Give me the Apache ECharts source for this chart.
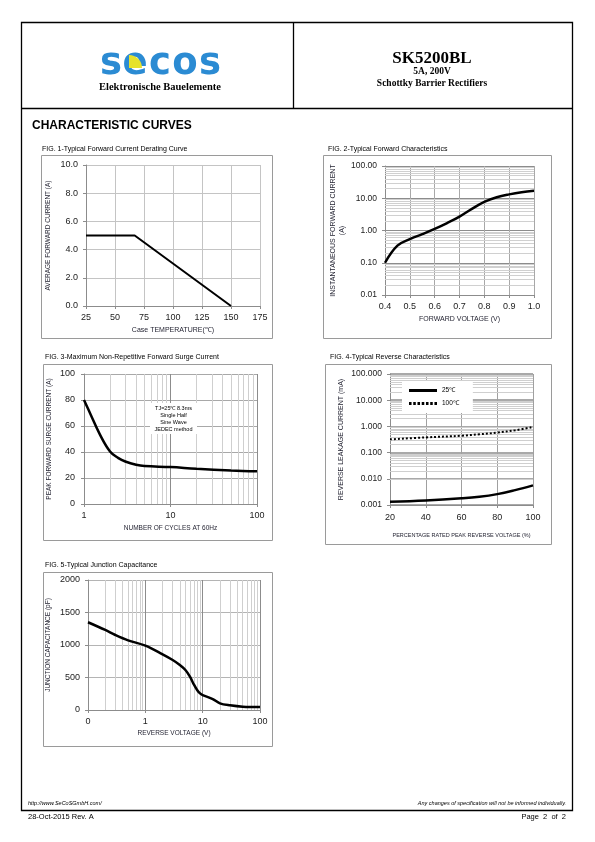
<!DOCTYPE html>
<html><head><meta charset="utf-8">
<script src="https://cdn.jsdelivr.net/npm/echarts@6/dist/echarts.min.js"></script>
<style>html,body{margin:0;padding:0;background:#fff}#c{width:595px;height:842px}</style>
</head><body><div id="c"></div>
<script>
// ---------------- DATA ----------------
// FIG.1 derating curve
const fig1Temp = [25, 67, 150];
const fig1Current = [5.0, 5.0, 0.0];
// FIG.2 forward characteristics
const fig2Voltage = [0.40, 0.45, 0.50, 0.55, 0.60, 0.65, 0.70, 0.75, 0.80, 0.85, 0.90, 0.95, 1.00];
const fig2Current = [0.10, 0.34, 0.54, 0.77, 1.12, 1.7, 2.7, 4.7, 7.7, 10.7, 13.2, 15.4, 17.0];
// FIG.3 surge current
const fig3Cycles = [1, 1.2, 1.5, 2, 2.5, 3, 4, 5, 10, 20, 50, 100];
const fig3Current = [80, 68.5, 54.5, 40.4, 35.3, 32.7, 30.2, 29.2, 28.4, 27.1, 25.8, 25.1];
// FIG.4 reverse characteristics
const fig4Percent = [20, 40, 60, 70, 80, 90, 100];
const fig4Leak25 = [0.00134, 0.0015, 0.0018, 0.00206, 0.0026, 0.0037, 0.0056];
const fig4Leak100 = [0.32, 0.38, 0.44, 0.50, 0.58, 0.71, 0.95];
const fig4Names = ['25℃', '100℃'];
// FIG.5 junction capacitance
const fig5Voltage = [0.1, 0.2, 0.3, 0.5, 1, 2, 3, 4, 5, 6, 7, 8, 9, 10, 15, 20, 30, 50, 100];
const fig5Cap = [1350, 1231, 1154, 1072, 990, 856, 769, 692, 615, 513, 395, 308, 256, 230, 169, 103, 72, 51, 46];
// minor log grid values
const minorDecadeSteps = [2, 3, 4, 5, 6, 7, 8, 9];
const fig2MinorY = [0.01, 0.1, 1, 10];
const fig4MinorY = [0.001, 0.01, 0.1, 1, 10];
const fig3MinorX = [1, 10];
const fig5MinorX = [0.1, 1, 10];
// texts
const titles = [
  'FIG. 1-Typical Forward Current Derating Curve',
  'FIG. 2-Typical Forward Characteristics',
  'FIG. 3-Maximum Non-Repetitive Forward Surge Current',
  'FIG. 4-Typical Reverse Characteristics',
  'FIG. 5-Typical Junction Capacitance'
];
const fig3Note = ['TJ=25℃ 8.3ms', 'Single Half', 'Sine Wave', 'JEDEC method'];

// ---------------- CHART ----------------
const F = 'Liberation Sans';
const chart = echarts.init(document.getElementById('c'), null, {renderer: 'canvas', width: 595, height: 842});
const zip = (a, b) => a.map((v, i) => [v, b[i]]);
const minorVals = (decades) => decades.flatMap(d => minorDecadeSteps.map(s => +(d * s).toPrecision(3)));

const gridRects = [
  {left: 86, top: 165, width: 174, height: 141},
  {left: 385, top: 166, width: 149, height: 129},
  {left: 84, top: 374, width: 173, height: 130},
  {left: 390, top: 374, width: 143, height: 131},
  {left: 88, top: 580, width: 172, height: 130}
];
const grid = gridRects.map(g => Object.assign({containLabel: false, outerBoundsMode: 'none', show: false}, g));

const axisLineS = {show: true, lineStyle: {color: '#8c8c8c', width: 1}};
const tickS = {show: true, length: 3, lineStyle: {color: '#8c8c8c'}};
const lab = (size, fmt, margin) => ({fontFamily: F, fontSize: size, color: '#222', formatter: fmt, margin: margin || 6});
const nameS = (size) => ({fontFamily: F, fontSize: size, color: '#1f1f2e'});
const split = (c, w) => ({show: true, lineStyle: {color: c, width: w || 1}});

const xAxis = [
  {gridIndex: 0, type: 'value', min: 25, max: 175, interval: 25, axisLine: axisLineS, axisTick: tickS,
   axisLabel: lab(9, v => String(v), 7), splitLine: split('#c4c4c4'),
   name: 'Case TEMPERATURE(℃)', nameLocation: 'middle', nameGap: 21, nameTextStyle: nameS(7)},
  {gridIndex: 1, type: 'value', min: 0.4, max: 1.0, interval: 0.1, axisLine: axisLineS, axisTick: tickS,
   axisLabel: lab(9, v => v.toFixed(1), 7), splitLine: split('#a8a8a8'),
   name: 'FORWARD VOLTAGE (V)', nameLocation: 'middle', nameGap: 21, nameTextStyle: nameS(7)},
  {gridIndex: 2, type: 'log', logBase: 10, min: 1, max: 100, axisLine: axisLineS, axisTick: tickS,
   axisLabel: lab(9, v => String(Math.round(v)), 7), splitLine: split('#8c8c8c'),
   name: 'NUMBER OF CYCLES AT 60Hz', nameLocation: 'middle', nameGap: 21, nameTextStyle: nameS(6.5)},
  {gridIndex: 3, type: 'value', min: 20, max: 100, interval: 20, axisLine: axisLineS, axisTick: tickS,
   axisLabel: lab(9, v => String(v), 8), splitLine: split('#a0a0a0'),
   name: 'PERCENTAGE RATED PEAK REVERSE VOLTAGE (%)', nameLocation: 'middle', nameGap: 27, nameTextStyle: nameS(5.5)},
  {gridIndex: 4, type: 'log', logBase: 10, min: 0.1, max: 100, axisLine: axisLineS, axisTick: tickS,
   axisLabel: lab(9, v => v < 0.5 ? '0' : String(Math.round(v)), 7), splitLine: split('#8c8c8c'),
   name: 'REVERSE VOLTAGE (V)', nameLocation: 'middle', nameGap: 20, nameTextStyle: nameS(6.5)}
];
const yAxis = [
  {gridIndex: 0, type: 'value', min: 0, max: 10, interval: 2, axisLine: axisLineS, axisTick: tickS,
   axisLabel: lab(9, v => v.toFixed(1), 8), splitLine: split('#c4c4c4'),
   name: 'AVERAGE FORWARD CURRENT (A)', nameLocation: 'middle', nameRotate: 90, nameGap: 34, nameTextStyle: nameS(6.5)},
  {gridIndex: 1, type: 'log', logBase: 10, min: 0.01, max: 100, axisLine: axisLineS, axisTick: tickS,
   axisLabel: lab(8.5, v => v.toFixed(2), 8), splitLine: split('#8c8c8c'),
   name: 'INSTANTANEOUS FORWARD CURRENT\n(A)', nameLocation: 'middle', nameRotate: 90, nameGap: 38, nameTextStyle: Object.assign(nameS(7), {lineHeight: 9})},
  {gridIndex: 2, type: 'value', min: 0, max: 100, interval: 20, axisLine: axisLineS, axisTick: tickS,
   axisLabel: lab(9, v => String(v), 9), splitLine: split('#a8a8a8'),
   name: 'PEAK FORWARD SURGE CURRENT (A)', nameLocation: 'middle', nameRotate: 90, nameGap: 31, nameTextStyle: nameS(6.5)},
  {gridIndex: 3, type: 'log', logBase: 10, min: 0.001, max: 100, axisLine: axisLineS, axisTick: tickS,
   axisLabel: lab(8.5, v => v.toFixed(3), 8), splitLine: split('#8c8c8c', 1.5),
   name: 'REVERSE LEAKAGE CURRENT (mA)', nameLocation: 'middle', nameRotate: 90, nameGap: 45, nameTextStyle: nameS(7)},
  {gridIndex: 4, type: 'value', min: 0, max: 2000, interval: 500, axisLine: axisLineS, axisTick: tickS,
   axisLabel: lab(9, v => String(v), 8), splitLine: split('#b4b4b4'),
   name: 'JUNCTION CAPACITANCE (pF)', nameLocation: 'middle', nameRotate: 90, nameGap: 36, nameTextStyle: nameS(6.5)}
];

function gridLines(idx, dir, vals, color, width) {
  return {
    type: 'line', xAxisIndex: idx, yAxisIndex: idx, data: [], silent: true, z: 1,
    markLine: {
      silent: true, symbol: ['none', 'none'], label: {show: false}, animation: false,
      lineStyle: {color: color, width: width || 1, type: 'solid'},
      emphasis: {disabled: true},
      data: vals.map(v => (dir === 'x' ? {xAxis: v} : {yAxis: v}))
    }
  };
}
const curve = (idx, data, smooth, extra) => Object.assign({
  type: 'line', xAxisIndex: idx, yAxisIndex: idx, data: data, smooth: smooth, symbol: 'none', z: 5,
  lineStyle: {color: '#000', width: 2.5}, itemStyle: {color: '#000'}, animation: false
}, extra || {});

const series = [
  gridLines(1, 'y', minorVals(fig2MinorY), '#d0d0d0', 1),
  gridLines(2, 'x', minorVals(fig3MinorX), '#cfcfcf', 1),
  gridLines(3, 'y', minorVals(fig4MinorY), '#cfcfcf', 1.2),
  gridLines(4, 'x', minorVals(fig5MinorX), '#cfcfcf', 1),
  curve(0, zip(fig1Temp, fig1Current), false, {lineStyle: {color: '#000', width: 2}}),
  curve(1, zip(fig2Voltage, fig2Current), 0.4),
  curve(2, zip(fig3Cycles, fig3Current), 0.4),
  curve(3, zip(fig4Percent, fig4Leak25), 0.4, {name: fig4Names[0]}),
  curve(3, zip(fig4Percent, fig4Leak100), 0.4, {name: fig4Names[1], lineStyle: {color: '#000', width: 2, type: [2, 2]}}),
  curve(4, zip(fig5Voltage, fig5Cap), 0.35)
];

// ----- page graphics -----
const G = [];
const txt = (x, y, t, font, align, fill) => G.push({type: 'text', x: x, y: y, silent: true,
  style: {text: t, font: font, fill: fill || '#000', align: align || 'left', verticalAlign: 'middle'}});
const box = (x, y, w, h, stroke, lw) => G.push({type: 'rect', silent: true, shape: {x: x, y: y, width: w, height: h},
  style: {fill: 'none', stroke: stroke, lineWidth: lw}});
const ln = (x1, y1, x2, y2, lw) => G.push({type: 'line', silent: true, shape: {x1: x1, y1: y1, x2: x2, y2: y2},
  style: {stroke: '#000', lineWidth: lw}});

// outer frame and header
box(21.5, 22.5, 551, 788, '#000', 1.3);
ln(21, 108.5, 573, 108.5, 1.3);
ln(293.5, 22, 293.5, 108, 1.3);
// logo
const logoLetters = ['s', 'e', 'c', 'o', 's'];
const logoX = [111, 135, 160, 185, 210];
logoLetters.forEach((l, i) => txt(logoX[i], 64, l, 'bold 37px "DejaVu Sans"', 'center', '#2b8bd3'));
G.push({type: 'sector', silent: true, shape: {cx: 129, cy: 68, r: 13, startAngle: -Math.PI / 2, endAngle: 0},
  style: {fill: '#e6e22c'}});
txt(160, 87, 'Elektronische Bauelemente', 'bold 10.5px "Liberation Serif"', 'center');
txt(432, 59, 'SK5200BL', 'bold 17px "Liberation Serif"', 'center');
txt(432, 72, '5A, 200V', 'bold 9.5px "Liberation Serif"', 'center');
txt(432, 84, 'Schottky Barrier Rectifiers', 'bold 9.5px "Liberation Serif"', 'center');
txt(32, 126, 'CHARACTERISTIC CURVES', 'bold 12px "Liberation Sans"');
// figure frames & titles
const frames = [
  [41.5, 155.5, 231, 183], [323.5, 155.5, 228, 183],
  [43.5, 364.5, 229, 176], [325.5, 364.5, 226, 180],
  [43.5, 572.5, 229, 174]
];
const titlePos = [[42, 149], [328, 149], [45, 357], [330, 357], [45, 565]];
frames.forEach(f => box(f[0], f[1], f[2], f[3], '#9a9a9a', 1));
titles.forEach((t, i) => txt(titlePos[i][0], titlePos[i][1], t, '7px "Liberation Sans"'));
// fig3 note box
G.push({type: 'rect', silent: true, z: 10, shape: {x: 150, y: 403, width: 47, height: 31}, style: {fill: '#fff'}});
fig3Note.forEach((t, i) => G.push({type: 'text', silent: true, z: 11, x: 173.5, y: 408 + i * 7,
  style: {text: t, font: '5.5px "Liberation Sans"', fill: '#000', align: 'center', verticalAlign: 'middle'}}));
// footer
txt(28, 803, 'http://www.SeCoSGmbH.com/', 'italic 5.5px "Liberation Sans"');
txt(566, 803, 'Any changes of specification will not be informed individually.', 'italic 5.5px "Liberation Sans"', 'right');
txt(28, 817, '28-Oct-2015 Rev. A', '7.5px "Liberation Sans"');
txt(566, 817, 'Page  2  of  2', '7.5px "Liberation Sans"', 'right');

const dottedIcon = 'path://' + [0, 4, 8, 12, 16, 20, 24].map(x => 'M' + x + ',0h2.4v2.4h-2.4z').join(' ');

chart.setOption({
  animation: false,
  backgroundColor: '#fff',
  grid: grid, xAxis: xAxis, yAxis: yAxis, series: series,
  legend: {
    data: [{name: fig4Names[0], icon: 'rect'}, {name: fig4Names[1], icon: dottedIcon}],
    orient: 'vertical', left: 402, top: 381, z: 8, backgroundColor: '#fff',
    itemWidth: 28, itemHeight: 3, itemGap: 6, padding: [6, 14, 6, 7], selectedMode: false,
    symbolKeepAspect: false,
    itemStyle: {color: '#000', borderWidth: 0},
    textStyle: {fontFamily: F, fontSize: 6.5, color: '#000'}
  },
  graphic: {elements: G}
});
</script>
</body></html>
